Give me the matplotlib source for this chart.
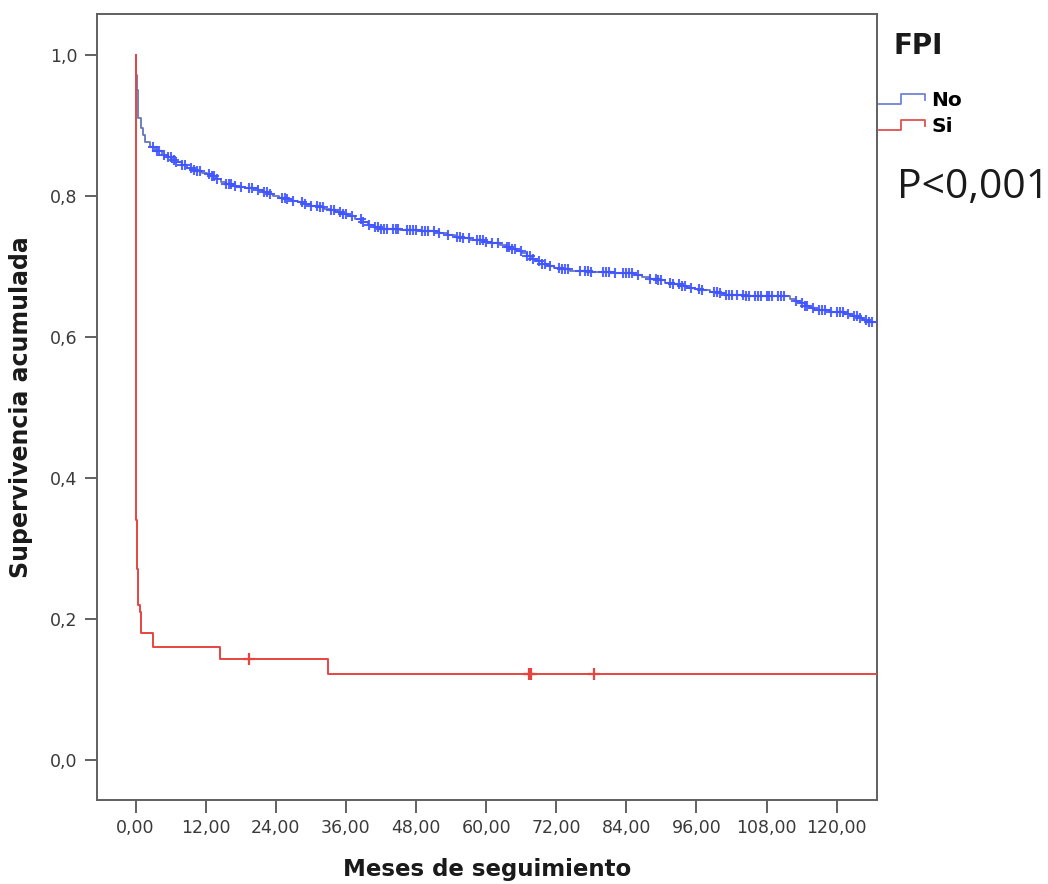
import numpy as np
import matplotlib
matplotlib.use('Agg')
import matplotlib.pyplot as plt
from matplotlib.lines import Line2D
from matplotlib.legend_handler import HandlerBase
from matplotlib.ticker import FuncFormatter

# Kaplan-Meier curve, FPI = No (months, cumulative survival)
no_time = [0, 0.1, 0.2, 0.35, 0.5, 0.85, 1.2, 1.7, 2.4, 3.3, 4.5, 5.4, 6.2, 7.0,
           7.9, 8.8, 9.6, 10.5, 11.3, 12.2, 13.0, 13.8, 14.7, 15.5, 16.4, 17.5,
           18.7, 20.9, 21.8, 22.6, 23.6, 24.6, 25.7, 26.7, 27.8, 28.9, 30.0,
           31.2, 32.2, 33.2, 34.2, 35.3, 36.4, 37.5, 38.6, 39.7, 40.8, 41.8,
           45.2, 48.6, 52.0, 53.3, 54.6, 55.9, 57.2, 59.7, 61.0, 62.3, 63.4,
           64.4, 65.3, 66.1, 67.0, 67.8, 68.6, 69.5, 70.6, 71.7, 73.0, 74.3,
           77.7, 82.0, 85.4, 86.7, 88.0, 89.3, 90.6, 91.9, 93.1, 94.4, 95.7,
           97.0, 98.3, 99.6, 100.8, 104.2, 112.0, 112.8, 113.7, 114.5, 115.4,
           116.2, 118.8, 121.4, 122.5, 123.6, 124.5, 125.3, 127.0]
no_surv = [1.0, 0.972, 0.950, 0.929, 0.911, 0.896, 0.887, 0.877, 0.870, 0.864,
           0.858, 0.855, 0.851, 0.848, 0.844, 0.840, 0.837, 0.835, 0.833, 0.831,
           0.828, 0.824, 0.820, 0.817, 0.814, 0.812, 0.811, 0.809, 0.806, 0.803,
           0.800, 0.797, 0.795, 0.793, 0.791, 0.789, 0.786, 0.784, 0.782, 0.780,
           0.777, 0.774, 0.771, 0.767, 0.763, 0.759, 0.756, 0.753, 0.752, 0.750,
           0.748, 0.745, 0.742, 0.740, 0.738, 0.735, 0.733, 0.730, 0.728, 0.725,
           0.722, 0.719, 0.715, 0.711, 0.707, 0.704, 0.701, 0.698, 0.696, 0.694,
           0.692, 0.691, 0.688, 0.685, 0.682, 0.680, 0.677, 0.675, 0.672, 0.670,
           0.668, 0.666, 0.664, 0.662, 0.660, 0.658, 0.654, 0.651, 0.648,
           0.644, 0.641, 0.638, 0.635, 0.633, 0.630, 0.627, 0.624, 0.621, 0.618]
no_cens = [3, 3.6, 4, 4.8, 5.5, 6, 6.5, 7, 8, 8.4, 9.5, 10, 10.6, 11, 12.5, 13,
           13.4, 14, 15.5, 16, 16.3, 17, 18, 19.5, 20, 21, 22, 22.5, 23, 25, 25.5,
           26, 27, 28.5, 29, 30, 31, 31.5, 32, 33.5, 34, 35, 35.5, 36, 37, 38.5,
           39, 40, 41, 41.5, 42, 42.5, 43, 44, 44.5, 45, 46.5, 47, 47.5, 48, 49,
           49.5, 50, 51, 52, 53.5, 55, 55.5, 56, 57, 58.5, 59, 59.5, 60, 61, 62,
           63.5, 64, 64.5, 65, 66, 67, 67.5, 68, 69, 69.5, 70, 71, 72.5, 73, 73.5,
           74, 76, 77, 77.5, 78, 80, 80.5, 81, 82, 83.5, 84, 84.5, 85, 86, 88,
           89, 89.5, 90, 91.5, 92, 93, 93.5, 94, 95, 96.5, 97, 99, 99.5, 100, 101,
           101.5, 102, 103, 104, 104.5, 105, 106, 106.5, 107, 108, 108.5, 109,
           110, 110.5, 111, 113, 114, 114.5, 115, 116, 117, 117.5, 118, 119, 120,
           120.5, 121, 122, 123, 123.5, 124, 125, 125.5, 126]

# FPI = Si
si_time = [0, 0.05, 0.1, 0.2, 0.35, 0.5, 0.7, 0.9, 1.0, 2.9, 14.4, 33.0, 126.8]
si_surv = [1.0, 0.72, 0.34, 0.27, 0.25, 0.22, 0.21, 0.19, 0.18, 0.16, 0.143, 0.122, 0.122]
si_cens = [19.5, 67.3, 67.7, 78.4]

x_ticks = [0, 12, 24, 36, 48, 60, 72, 84, 96, 108, 120]
y_ticks = [0.0, 0.2, 0.4, 0.6, 0.8, 1.0]

blue = '#4055ff'
blue_line = '#6676b8'
red = '#e6453f'


def step_at(times, surv, t):
    idx = np.searchsorted(times, t, side='right') - 1
    return np.asarray(surv)[idx]


class StepHandler(HandlerBase):
    def create_artists(self, legend, orig_handle, xdescent, ydescent,
                       width, height, fontsize, trans):
        xs = np.array([0, 0.48, 0.48, 1.0, 1.0]) * width - xdescent
        ys = np.array([0.15, 0.15, 0.85, 0.85, 0.4]) * height - ydescent
        ln = Line2D(xs, ys, color=orig_handle.get_color(), lw=1.3,
                    transform=trans)
        return [ln]


fig = plt.figure(figsize=(10.48, 8.84), dpi=100)
ax = fig.add_axes([97 / 1048, 1 - 800 / 884, 780 / 1048, 786 / 884])

ax.step(no_time, no_surv, where='post', color=blue_line, lw=1.3, zorder=3)
ax.plot(no_cens, step_at(no_time, no_surv, no_cens), '+', color=blue,
        ms=7, mew=1.5, alpha=0.9, zorder=4)
ax.step(si_time, si_surv, where='post', color=red, lw=1.4, zorder=3)
ax.plot(si_cens, step_at(si_time, si_surv, si_cens), '+', color=red,
        ms=9, mew=1.6, zorder=4)

ax.set_xlim(-6.6, 126.9)
ax.set_ylim(-0.057, 1.058)
ax.set_xticks(x_ticks)
ax.set_yticks(y_ticks)
ax.xaxis.set_major_formatter(FuncFormatter(lambda v, p: f'{v:.2f}'.replace('.', ',')))
ax.yaxis.set_major_formatter(FuncFormatter(lambda v, p: f'{v:.1f}'.replace('.', ',')))
ax.tick_params(direction='out', length=9, width=1.3, color='#555555',
               labelsize=12.5, labelcolor='#3a3a3a', pad=5)
for sp in ax.spines.values():
    sp.set_color('#606060')
    sp.set_linewidth(1.4)

ax.set_xlabel('Meses de seguimiento', fontsize=16.5, fontweight='bold',
              color='#1a1a1a', labelpad=15)
ax.set_ylabel('Supervivencia acumulada', fontsize=17, fontweight='bold',
              color='#1a1a1a', labelpad=12)

handles = [Line2D([], [], color='#7082d8'), Line2D([], [], color='#e05050')]
leg = fig.legend(handles, ['No', 'Si'], handler_map={Line2D: StepHandler()},
                 loc='upper left', bbox_to_anchor=(879 / 1048, 1 - 91 / 884),
                 frameon=False, borderpad=0, borderaxespad=0,
                 handlelength=2.3, handletextpad=0.3, labelspacing=0.35,
                 prop={'weight': 'bold', 'size': 14.5})
fig.text(893 / 1048, 1 - 46 / 884, 'FPI', fontsize=20, fontweight='bold',
         color='#1a1a1a', va='center', ha='left')
fig.text(897 / 1048, 1 - 188 / 884, 'P<0,001', fontsize=29.5,
         family='Open Sans', color='#1a1a1a', va='center', ha='left')

fig.savefig('out.png', dpi=100)
